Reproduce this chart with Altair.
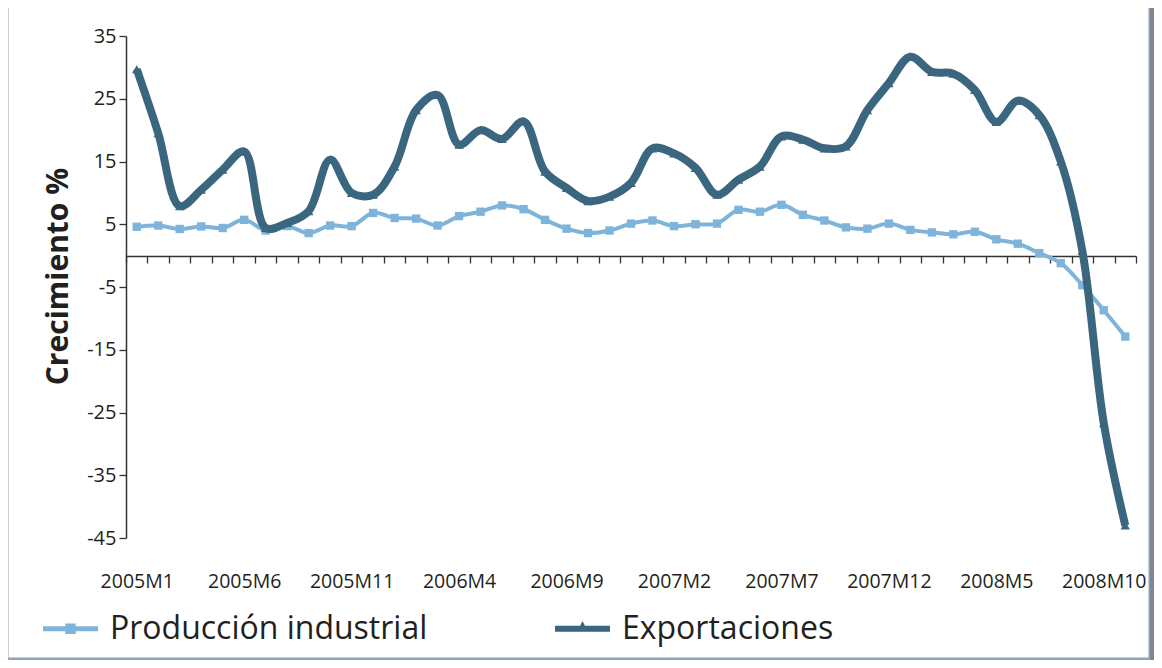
import altair as alt
import pandas as pd

# ---- data ----
years = [2005, 2006, 2007, 2008]
months = [f"{y}M{m}" for y in years for m in range(1, 13)][:47]  # 2005M1 .. 2008M11

produccion = [4.6, 4.8, 4.25, 4.65, 4.4, 5.7, 4.0, 4.7, 3.6, 4.8,
              4.7, 6.8, 6.0, 5.9, 4.8, 6.3, 7.0, 8.0, 7.4, 5.7,
              4.3, 3.6, 4.0, 5.1, 5.6, 4.7, 5.0, 5.1, 7.3, 7.0,
              8.1, 6.5, 5.6, 4.5, 4.3, 5.1, 4.1, 3.7, 3.4, 3.8,
              2.6, 1.9, 0.4, -1.2, -4.7, -8.7, -12.9]

exportaciones = [29.7, 19.5, 7.9, 10.5, 13.7, 16.6, 4.4, 5.2, 7.1, 15.3,
                 10.0, 9.7, 14.2, 23.2, 25.6, 17.7, 20.0, 18.6, 21.4, 13.4,
                 10.8, 8.7, 9.4, 11.6, 17.1, 16.3, 14.0, 9.7, 12.1, 14.2,
                 19.0, 18.5, 17.1, 17.4, 23.2, 27.5, 31.7, 29.3, 29.0, 26.4,
                 21.3, 24.7, 22.4, 15.0, 0.8, -26.7, -43.0]

series = ["Producción industrial", "Exportaciones"]
colors = ["#7fb4da", "#3b6680"]
y_ticks = [-45, -35, -25, -15, -5, 5, 15, 25, 35]
label_every = 5

rows = []
for i, m in enumerate(months):
    rows.append({"mes": m, "pos": i + 0.5, "serie": series[0], "valor": produccion[i]})
    rows.append({"mes": m, "pos": i + 0.5, "serie": series[1], "valor": exportaciones[i]})
df = pd.DataFrame(rows)

n = len(months)
label_positions = [i + 0.5 for i in range(0, n, label_every)]
label_names = [months[i] for i in range(0, n, label_every)]
label_expr = "[" + ",".join(f"'{s}'" for s in label_names) + f"][floor(datum.value / {label_every})]"

FONT = "Open Sans"
TXT = "#231f20"

xscale = alt.Scale(domain=[0, n], nice=False, zero=False)
yscale = alt.Scale(domain=[-45, 35], nice=False, zero=False)

x_label_axis = alt.Axis(orient="bottom", values=label_positions, labelExpr=label_expr,
                        domain=False, ticks=False, grid=False, title=None,
                        labelFont=FONT, labelFontSize=19.5, labelColor=TXT,
                        labelPadding=34, labelAngle=0, labelOverlap=False,
                        labelFlush=False)
x_tick_axis = alt.Axis(orient="bottom", values=list(range(0, n + 1)), labels=False,
                       domain=True, domainColor="#333333", domainWidth=1.5,
                       ticks=True, tickSize=7, tickColor="#333333", tickWidth=1.3,
                       grid=False, title=None, offset=-282)
y_axis = alt.Axis(values=y_ticks, grid=False, title="Crecimiento %",
                  labelExpr="'' + datum.value",
                  titleFont=FONT, titleFontSize=30, titleFontWeight="bold", titleColor=TXT,
                  titleX=-68, titleY=240, titleAngle=-90, titleAlign="center",
                  titleBaseline="middle",
                  labelFont=FONT, labelFontSize=20, labelColor=TXT, labelPadding=3,
                  domainColor="#333333", domainWidth=1.5, tickColor="#333333",
                  tickSize=7, tickWidth=1.3)

base = alt.Chart(df)

light = base.transform_filter(alt.datum.serie == series[0])
dark = base.transform_filter(alt.datum.serie == series[1])

light_line = light.mark_line(color=colors[0], strokeWidth=4, interpolate="catmull-rom").encode(
    x=alt.X("pos:Q", scale=xscale, axis=x_label_axis),
    y=alt.Y("valor:Q", scale=yscale, axis=y_axis),
)
light_pts = light.mark_point(shape="square", filled=True, color=colors[0], size=70, opacity=1).encode(
    x=alt.X("pos:Q", scale=xscale, axis=None), y=alt.Y("valor:Q", scale=yscale))

dark_line = dark.mark_line(color=colors[1], strokeWidth=8, interpolate="catmull-rom").encode(
    x=alt.X("pos:Q", scale=xscale, axis=x_tick_axis),
    y=alt.Y("valor:Q", scale=yscale),
)
dark_pts = dark.mark_point(shape="triangle-up", filled=True, color=colors[1], size=90, opacity=1).encode(
    x=alt.X("pos:Q", scale=xscale, axis=None), y=alt.Y("valor:Q", scale=yscale))

sym_light = "M-1,-0.09H1V0.09H-1Z M-0.19,-0.19H0.19V0.19H-0.19Z"
sym_dark = "M-1,-0.11H1V0.11H-1Z M-0.17,0.05L0,-0.28L0.17,0.05Z"
legend_def = dict(orient="none", legendX=-83, legendY=565, direction="horizontal",
                  columns=2, title=None, labelFont=FONT, labelFontSize=32, labelColor=TXT,
                  labelOffset=12, columnPadding=127, symbolSize=3025, symbolStrokeWidth=0,
                  labelLimit=0, padding=0)
legend_layer = base.transform_filter("false").mark_point(filled=True, size=3025, opacity=1).encode(
    x=alt.X("pos:Q", scale=xscale, axis=None), y=alt.Y("valor:Q", scale=yscale),
    color=alt.Color("serie:N", scale=alt.Scale(domain=series, range=colors),
                    legend=alt.Legend(**legend_def)),
    shape=alt.Shape("serie:N", scale=alt.Scale(domain=series, range=[sym_light, sym_dark]),
                    legend=alt.Legend(**legend_def)),
)

frame = alt.Chart(alt.Data(values=[{}])).mark_rect(
    fill=None, stroke="#8fa4b9", strokeWidth=3).encode(
    x=alt.value(-119), x2=alt.value(1024), y=alt.value(-30), y2=alt.value(623))
shadow = alt.Chart(alt.Data(values=[{}])).mark_rect(fill="#7c8793").encode(
    x=alt.value(1024), x2=alt.value(1028), y=alt.value(-30), y2=alt.value(626))

chart = alt.layer(frame, shadow, light_line, light_pts, dark_line, dark_pts, legend_layer).resolve_axis(
    x="independent"
).properties(
    width=1010, height=502,
    autosize=alt.AutoSizeParams(type="none"),
    padding={"left": 118, "top": 28, "right": 18, "bottom": 122},
    background="white",
).configure_view(stroke=None)

chart.save("out.html", embed_options={"renderer": "svg", "actions": False})
